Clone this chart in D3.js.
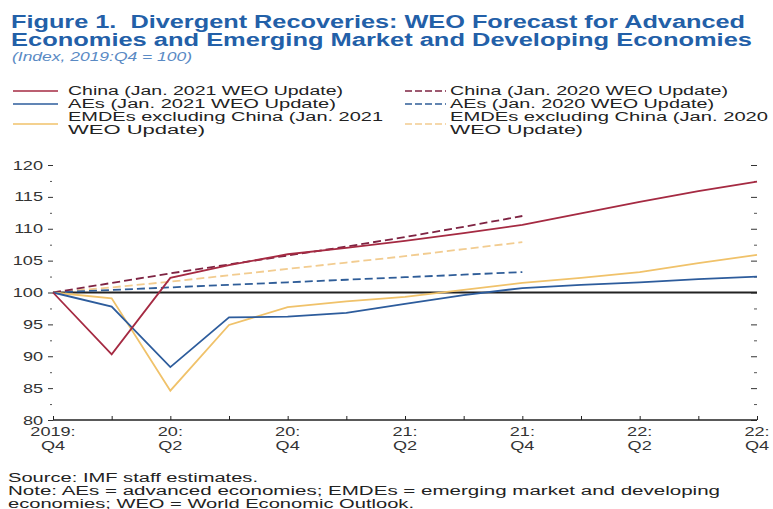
<!DOCTYPE html>
<html>
<head>
<meta charset="utf-8">
<script src="https://cdn.jsdelivr.net/npm/d3@7"></script>
<style>
  body { margin: 0; background: #fff; }
  svg { display: block; font-family: "Liberation Sans", Arial, sans-serif; }
  text { white-space: pre; }
</style>
</head>
<body>
<script>
// quarters 2019:Q4 .. 2022:Q4
const quarters = ["2019:Q4", "20:Q1", "20:Q2", "20:Q3", "20:Q4", "21:Q1", "21:Q2",
    "21:Q3", "21:Q4", "22:Q1", "22:Q2", "22:Q3", "22:Q4"];
const labelled = ["2019:Q4", "20:Q2", "20:Q4", "21:Q2", "21:Q4", "22:Q2", "22:Q4"];

// Jan. 2021 WEO Update (to 22:Q4)
const china2021 = [100, 90.3, 102.3, 104.3, 106, 107, 108.1, 109.3, 110.6, 112.4, 114.2, 115.9, 117.4];
const aes2021 = [100, 97.8, 88.3, 96.1, 96.2, 96.8, 98.2, 99.6, 100.7, 101.2, 101.6, 102.1, 102.5];
const emdes2021 = [100, 99.1, 84.6, 94.9, 97.7, 98.6, 99.3, 100.4, 101.5, 102.3, 103.2, 104.6, 105.9];

// Jan. 2020 WEO Update (to 21:Q4)
const china2020 = [100, 101.5, 103, 104.4, 105.8, 107.2, 108.7, 110.3, 112];
const aes2020 = [100, 100.4, 100.8, 101.2, 101.6, 102, 102.4, 102.8, 103.2];
const emdes2020 = [100, 100.8, 101.7, 102.7, 103.7, 104.7, 105.7, 106.8, 107.9];

const yTicks = [80, 85, 90, 95, 100, 105, 110, 115, 120];
const yMinor = [82.5, 87.5, 92.5, 97.5, 102.5, 107.5, 112.5, 117.5];

const series = [
    { name: ["China (Jan. 2021 WEO Update)"], widths: [275], values: china2021, color: "#a52a42", dash: null },
    { name: ["AEs (Jan. 2021 WEO Update)"], widths: [268], values: aes2021, color: "#2d5c9c", dash: null },
    { name: ["EMDEs excluding China (Jan. 2021", "WEO Update)"], widths: [315, 137], values: emdes2021, color: "#f0c26a", dash: null },
    { name: ["China (Jan. 2020 WEO Update)"], widths: [278], values: china2020, color: "#7e2342", dash: "8,4" },
    { name: ["AEs (Jan. 2020 WEO Update)"], widths: [264], values: aes2020, color: "#2f5d98", dash: "8,4" },
    { name: ["EMDEs excluding China (Jan. 2020", "WEO Update)"], widths: [318, 133], values: emdes2020, color: "#f2cc90", dash: "8,4" }
];

const width = 773, height = 509;
const margin = { top: 165, right: 16, bottom: 89, left: 53 };
const stretch = 1.45; // the labels are drawn wide

const svg = d3.select("body").append("svg")
    .attr("width", width)
    .attr("height", height);

function wideText(g, x, y, str, w) {
    return g.append("text").attr("x", x).attr("y", y)
        .attr("textLength", w).attr("lengthAdjust", "spacingAndGlyphs")
        .text(str);
}

// title block
const head = svg.append("g").attr("fill", "#2360a8").attr("font-weight", "bold").attr("font-size", 17.5);
wideText(head, 11, 27.5, "Figure 1.  Divergent Recoveries: WEO Forecast for Advanced", 734);
wideText(head, 11, 46, "Economies and Emerging Market and Developing Economies", 741);
wideText(svg.append("g").attr("fill", "#5a8ac4").attr("font-style", "italic").attr("font-size", 13),
    12, 61, "(Index, 2019:Q4 = 100)", 180);

const x = d3.scalePoint()
    .domain(quarters)
    .range([margin.left, width - margin.right]);

const y = d3.scaleLinear()
    .domain([80, 120])
    .range([height - margin.bottom, margin.top]);

// legend
const legendRows = [95, 108, 121];
const legend = svg.append("g").attr("font-size", 12.5).attr("fill", "#222");
series.forEach((s, i) => {
    const col = Math.floor(i / 3), row = i % 3;
    const lx = col === 0 ? 13 : 405;
    const tx = col === 0 ? 68 : 450;
    const ly = legendRows[row];
    const midY = s.name.length > 1 ? ly + 3 : ly - 4;
    legend.append("line")
        .attr("x1", lx).attr("x2", col === 0 ? 58 : 446)
        .attr("y1", midY).attr("y2", midY)
        .attr("stroke", s.color).attr("stroke-width", 1.5)
        .attr("stroke-dasharray", s.dash ? "7,3" : null);
    s.name.forEach((t, k) => wideText(legend, tx, ly + k * 13, t, s.widths[k]));
});

// axes
const yAxis = svg.append("g")
    .attr("transform", `translate(${margin.left},0)`)
    .call(d3.axisLeft(y).tickValues(yTicks).tickSize(5));
yAxis.select(".domain").remove();
yAxis.selectAll("text")
    .attr("font-size", 12.5).attr("fill", "#333")
    .attr("font-family", "Liberation Sans, Arial, sans-serif")
    .attr("x", -10 / stretch)
    .attr("transform", `scale(${stretch},1)`);
yAxis.selectAll(".tick line").attr("stroke", "#333");

svg.append("g")
    .attr("transform", `translate(${margin.left - 1},0)`)
    .call(d3.axisLeft(y).tickValues(yMinor).tickSize(2).tickFormat(""))
    .call(g => g.select(".domain").remove())
    .selectAll(".tick line").attr("stroke", "#555");

const rAxis = svg.append("g")
    .attr("transform", `translate(${width - margin.right},0)`)
    .call(d3.axisLeft(y).tickValues(yTicks).tickSize(6).tickFormat(""));
rAxis.select(".domain").remove();
rAxis.selectAll(".tick line").attr("stroke", "#333");
svg.append("g")
    .attr("transform", `translate(${width - margin.right},0)`)
    .call(d3.axisLeft(y).tickValues(yMinor).tickSize(3).tickFormat(""))
    .call(g => g.select(".domain").remove())
    .selectAll(".tick line").attr("stroke", "#555");

const xAxis = svg.append("g")
    .attr("transform", `translate(0,${height - margin.bottom})`)
    .call(d3.axisTop(x).tickSize(4).tickFormat(""));
xAxis.select(".domain").attr("stroke", "#222").attr("stroke-width", 1.5)
    .attr("d", `M${margin.left},0H${width - margin.right}`);
xAxis.selectAll(".tick line").attr("stroke", "#222");

const xLabels = svg.append("g").attr("font-size", 12.5).attr("fill", "#333")
    .attr("text-anchor", "middle");
labelled.forEach(q => {
    const [yr, qt] = q.split(":");
    const t = xLabels.append("text")
        .attr("transform", `translate(${x(q)},0) scale(${stretch},1)`);
    t.append("tspan").attr("x", 0).attr("y", 436).text(yr + ":");
    t.append("tspan").attr("x", 0).attr("y", 450).text(qt);
});

// 100 reference line
svg.append("line")
    .attr("x1", margin.left).attr("x2", width - margin.right)
    .attr("y1", y(100)).attr("y2", y(100))
    .attr("stroke", "#222").attr("stroke-width", 1.8);

const line = d3.line()
    .x((d, i) => x(quarters[i]))
    .y(d => y(d));

// dashed first, solid on top
const order = [5, 4, 3, 2, 1, 0];
svg.append("g").selectAll("path")
    .data(order.map(i => series[i]))
    .join("path")
    .attr("d", d => line(d.values))
    .attr("fill", "none")
    .attr("stroke", d => d.color)
    .attr("stroke-width", 1.8)
    .attr("stroke-dasharray", d => d.dash);

// footer
const foot = svg.append("g").attr("font-size", 12.5).attr("fill", "#222");
wideText(foot, 8, 482, "Source: IMF staff estimates.", 250);
wideText(foot, 8, 495, "Note: AEs = advanced economies; EMDEs = emerging market and developing", 712);
wideText(foot, 8, 507.5, "economies; WEO = World Economic Outlook.", 406);
</script>
</body>
</html>
